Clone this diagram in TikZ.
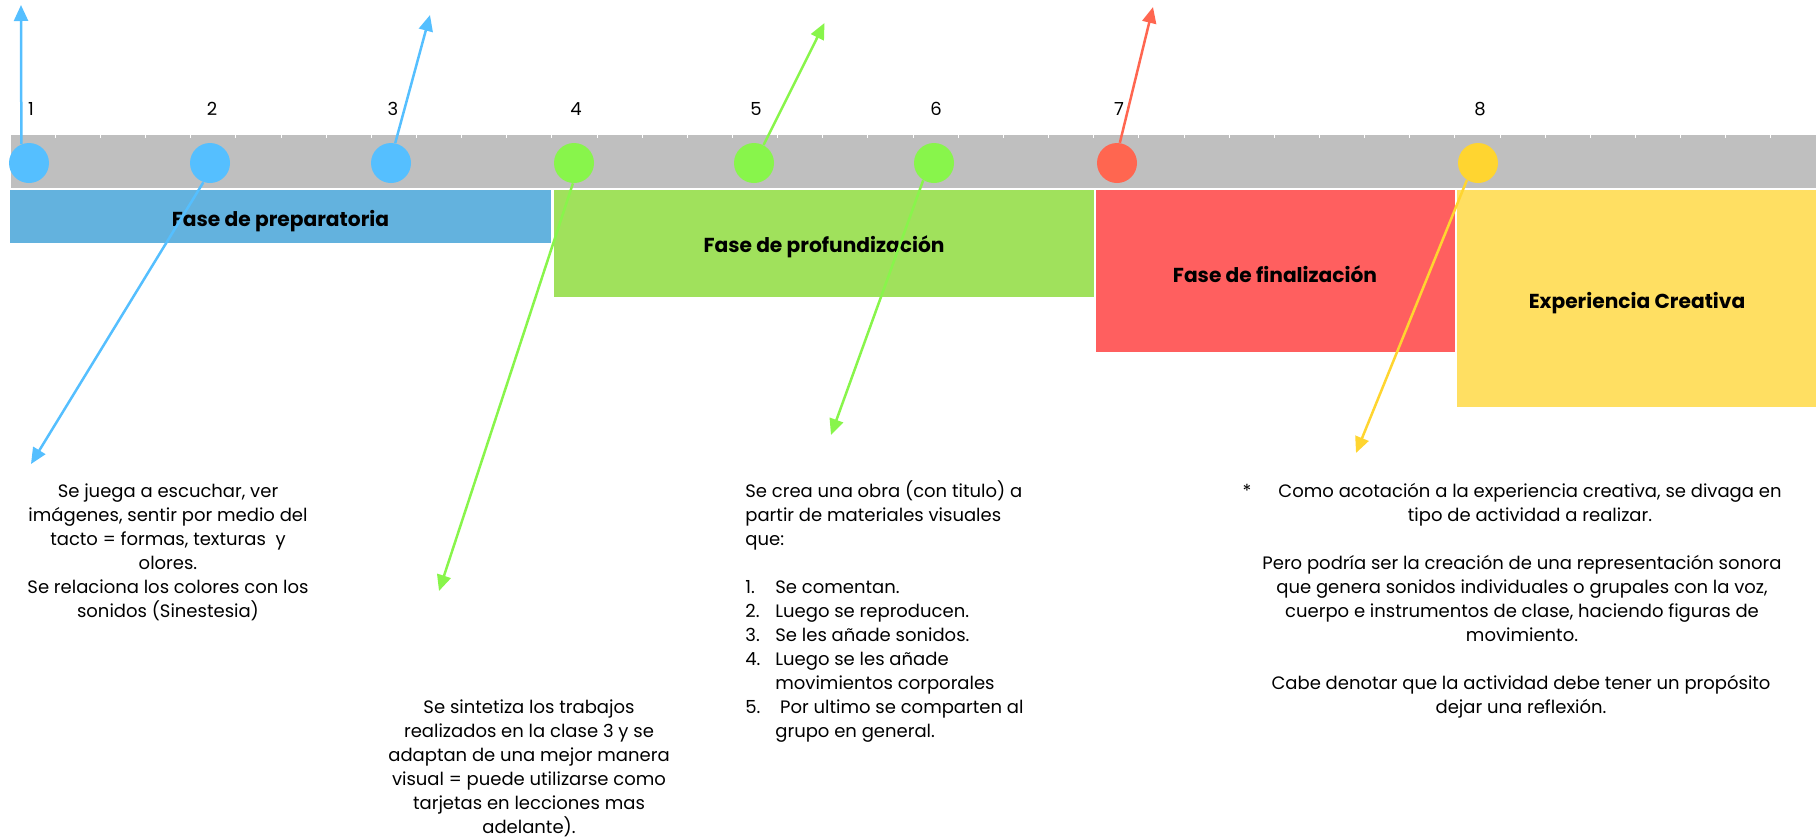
\documentclass[tikz,border=0pt]{standalone}
\usepackage{fontspec}
\setmainfont{Poppins}
\usepackage{xcolor}
\usepackage{tikz}
\usetikzlibrary{arrows.meta, positioning, calc}

\definecolor{bargray}{HTML}{BFBFBF}
\definecolor{dotblue}{HTML}{55BFFF}
\definecolor{boxblue}{HTML}{63B2DE}
\definecolor{dotgreen}{HTML}{88F54B}
\definecolor{boxgreen}{HTML}{A0E15C}
\definecolor{dotred}{HTML}{FF6650}
\definecolor{boxred}{HTML}{FF5F5F}
\definecolor{dotyellow}{HTML}{FFD530}
\definecolor{boxyellow}{HTML}{FFDF62}

\begin{document}
\begin{tikzpicture}[x=0.5pt, y=-0.5pt, >={Triangle[length=8pt, width=7pt]}]
  \tikzstyle{milestone} = [circle, inner sep=0pt, minimum size=20pt]
  \tikzstyle{numlabel} = [font=\fontsize{9}{12}\selectfont, inner sep=0pt]
  \tikzstyle{phaselabel} = [font=\fontsize{10.1}{13}\selectfont\bfseries, inner sep=0pt, anchor=base]
  \tikzstyle{notetext} = [font=\fontsize{9}{12}\selectfont, inner sep=0pt, anchor=base, align=center]
  \tikzstyle{pointer} = [->, line width=1.25pt]

  \useasboundingbox (0,0) rectangle (1820,836);

  \fill[bargray] (11,135) rectangle (1816,187.5);
  \foreach \k in {1,...,39}
    \draw[white, line width=0.4pt] ({10+45.15*\k},135) -- ++(0,2.5);

  \fill[boxblue] (10,190) rectangle (551,243);
  \fill[boxgreen] (554,190) rectangle (1094,297);
  \fill[boxred] (1096,190) rectangle (1455,352);
  \fill[boxyellow] (1457,190) rectangle (1816,407);

  \node[phaselabel] (prep) at (280.5,226.5) {Fase de preparatoria};
  \node[phaselabel] (prof) at (824,252) {Fase de profundización};
  \node[phaselabel] (fin) at (1275,282) {Fase de finalización};
  \node[phaselabel] (expc) at (1637,308) {Experiencia Creativa};

  \foreach \x/\col/\n in {29/dotblue/1, 210/dotblue/2, 391/dotblue/3, 574/dotgreen/4,
                          754/dotgreen/5, 934/dotgreen/6, 1117/dotred/7, 1478/dotyellow/8} {
    \node[milestone, fill=\col] (c\n) at (\x,163) {};
    \node[numlabel] (n\n) at (\x+2,109) {\n};
  }

  \coordinate (t1) at (21,5);
  \coordinate (t2) at (31,464);
  \coordinate (t3) at (430,15);
  \coordinate (t4) at (439,591);
  \coordinate (t5) at (824.5,23);
  \coordinate (t6) at (831,435);
  \coordinate (t7) at (1153,7);
  \coordinate (t8) at (1356,453);

  \draw[pointer, dotblue] (c1.112) -- (t1);
  \draw[pointer, dotblue] (c2.251) -- (t2);
  \draw[pointer, dotblue] (c3.78) -- (t3);
  \draw[pointer, dotgreen] (c4.267) -- (t4);
  \draw[pointer, dotgreen] (c5.62) -- (t5);
  \draw[pointer, dotgreen] (c6.238) -- (t6);
  \draw[pointer, dotred] (c7.82) -- (t7);
  \draw[pointer, dotyellow] (c8.237) -- (t8);

  \node[notetext] (ntA) at (168,617) {Se juega a escuchar, ver\\imágenes, sentir por medio del\\tacto = formas, texturas\ \ y\\olores.\\Se relaciona los colores con los\\sonidos (Sinestesia)};
  \node[notetext] (ntB) at (529,833) {Se sintetiza los trabajos\\realizados en la clase 3 y se\\adaptan de una mejor manera\\visual = puede utilizarse como\\tarjetas en lecciones mas\\adelante).};
  \node[notetext, align=left, anchor=base west] (ntC) at (745,737) {Se crea una obra (con titulo) a\\partir de materiales visuales\\que:\\[12pt]
    \makebox[15pt][l]{1.}Se comentan.\\
    \makebox[15pt][l]{2.}Luego se reproducen.\\
    \makebox[15pt][l]{3.}Se les añade sonidos.\\
    \makebox[15pt][l]{4.}Luego se les añade\\
    \hspace*{15pt}movimientos corporales\\
    \makebox[15pt][l]{5.}\ Por ultimo se comparten al\\
    \hspace*{15pt}grupo en general.};
  \node[notetext] (ntD) at (1530,521) {Como acotación a la experiencia creativa, se divaga en\\tipo de actividad a realizar.};
  \node[notetext] (star) at (1247,497) {*};
  \node[notetext] (ntE) at (1522,641) {Pero podría ser la creación de una representación sonora\\que genera sonidos individuales o grupales con la voz,\\cuerpo e instrumentos de clase, haciendo figuras de\\movimiento.};
  \node[notetext] (ntF) at (1521,713) {Cabe denotar que la actividad debe tener un propósito\\dejar una reflexión.};
\end{tikzpicture}
\end{document}
